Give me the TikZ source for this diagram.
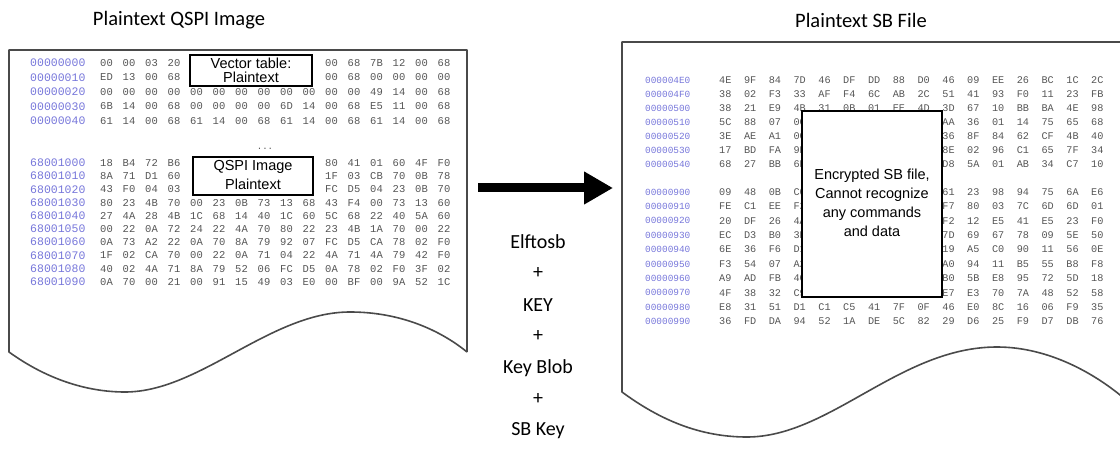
\documentclass[tikz,border=0pt]{standalone}
\usepackage{fontspec}
\setmainfont{Carlito}
\newfontfamily\hexfont{Liberation Mono}
\newfontfamily\arialfont{Liberation Sans}
\usetikzlibrary{arrows.meta}
\definecolor{addrc}{HTML}{7676DA}
\definecolor{hexc}{HTML}{555555}
\definecolor{docline}{HTML}{4A4A4A}
\tikzset{
  addrL/.style={font=\hexfont\fontsize{11.5}{11.5}\selectfont, text=addrc, inner sep=0pt, anchor=west},
  hexL/.style={font=\hexfont\fontsize{10.5}{10.5}\selectfont, text=hexc, inner sep=0pt, anchor=west},
  addrR/.style={font=\hexfont\fontsize{9.4}{9.4}\selectfont, text=addrc, inner sep=0pt, anchor=west},
  hexR/.style={font=\hexfont\fontsize{10.2}{10.2}\selectfont, text=hexc, inner sep=0pt, anchor=west},
  doc/.style={draw=docline, line width=1.6pt, line join=round},
  labelbox/.style={draw=black, fill=white, line width=1.3pt},
  boxtext/.style={font=\arialfont\fontsize{14.5}{14.5}\selectfont, inner sep=0pt, anchor=base},
  title/.style={font=\fontsize{20.5}{20.5}\selectfont, inner sep=0pt},
  midtext/.style={font=\fontsize{20}{20}\selectfont, inner sep=0pt},
}
% x0, y, pitch, start index, list, style, name prefix
\newcommand\hexbytes[7]{%
  \foreach \b [count=\i from #4] in {#5} {\node[#6] (#7-\i) at ({#1+#3*\i},#2) {\b};}%
}
\begin{document}
\begin{tikzpicture}[x=1pt,y=-1pt]
\useasboundingbox (0,0) rectangle (1120,449);

% ---------------- titles
\node[title] (tL) at (179,20) {Plaintext QSPI Image};
\node[title] (tR) at (861,20) {Plaintext SB File};

% ---------------- left document
\draw[doc] (467,352) -- (467,50) -- (9,50) -- (9,352)
  .. controls (45,378) and (85,392) .. (125,392)
  .. controls (200,392) and (270,312) .. (350,312)
  .. controls (400,312) and (440,330) .. (467,352);

% block 1
\def\lx{100}\def\lp{22.5}
\node[addrL] (la0) at (30,63) {00000000};
\node[addrL] (la1) at (30,77.5) {00000010};
\node[addrL] (la2) at (30,92) {00000020};
\node[addrL] (la3) at (30,106.5) {00000030};
\node[addrL] (la4) at (30,121) {00000040};
\hexbytes{\lx}{63}{\lp}{0}{00,00,03,20}{hexL}{l0a}
\hexbytes{\lx}{63}{\lp}{10}{00,68,7B,12,00,68}{hexL}{l0b}
\hexbytes{\lx}{77.5}{\lp}{0}{ED,13,00,68}{hexL}{l1a}
\hexbytes{\lx}{77.5}{\lp}{10}{00,68,00,00,00,00}{hexL}{l1b}
\hexbytes{\lx}{92}{\lp}{0}{00,00,00,00,00,00,00,00,00,00,00,00,49,14,00,68}{hexL}{l2}
\hexbytes{\lx}{106.5}{\lp}{0}{6B,14,00,68,00,00,00,00,6D,14,00,68,E5,11,00,68}{hexL}{l3}
\hexbytes{\lx}{121}{\lp}{0}{61,14,00,68,61,14,00,68,61,14,00,68,61,14,00,68}{hexL}{l4}

\draw[labelbox] (190,55) rectangle (312,86);
\node[boxtext] (vt1) at (251,68.5) {Vector table:};
\node[boxtext] (vt2) at (251,83) {Plaintext};

\node[font=\hexfont\fontsize{9}{9}\selectfont, text=hexc, inner sep=0pt] (dots) at (265,149) {...};

% block 2
\foreach \r/\a in {0/68001000,1/68001010,2/68001020,3/68001030,4/68001040,5/68001050,6/68001060,7/68001070,8/68001080,9/68001090}
  {\node[addrL] (lb\r) at (30,{163+13.2*\r}) {\a};}
\hexbytes{\lx}{163}{\lp}{0}{18,B4,72,B6}{hexL}{m0a}
\hexbytes{\lx}{163}{\lp}{10}{80,41,01,60,4F,F0}{hexL}{m0b}
\hexbytes{\lx}{176.2}{\lp}{0}{8A,71,D1,60}{hexL}{m1a}
\hexbytes{\lx}{176.2}{\lp}{10}{1F,03,CB,70,0B,78}{hexL}{m1b}
\hexbytes{\lx}{189.4}{\lp}{0}{43,F0,04,03}{hexL}{m2a}
\hexbytes{\lx}{189.4}{\lp}{10}{FC,D5,04,23,0B,70}{hexL}{m2b}
\hexbytes{\lx}{202.6}{\lp}{0}{80,23,4B,70,00,23,0B,73,13,68,43,F4,00,73,13,60}{hexL}{m3}
\hexbytes{\lx}{215.8}{\lp}{0}{27,4A,28,4B,1C,68,14,40,1C,60,5C,68,22,40,5A,60}{hexL}{m4}
\hexbytes{\lx}{229}{\lp}{0}{00,22,0A,72,24,22,4A,70,80,22,23,4B,1A,70,00,22}{hexL}{m5}
\hexbytes{\lx}{242.2}{\lp}{0}{0A,73,A2,22,0A,70,8A,79,92,07,FC,D5,CA,78,02,F0}{hexL}{m6}
\hexbytes{\lx}{255.4}{\lp}{0}{1F,02,CA,70,00,22,0A,71,04,22,4A,71,4A,79,42,F0}{hexL}{m7}
\hexbytes{\lx}{268.6}{\lp}{0}{40,02,4A,71,8A,79,52,06,FC,D5,0A,78,02,F0,3F,02}{hexL}{m8}
\hexbytes{\lx}{281.8}{\lp}{0}{0A,70,00,21,00,91,15,49,03,E0,00,BF,00,9A,52,1C}{hexL}{m9}

\draw[labelbox] (193,157) rectangle (313,195);
\node[boxtext] (qs1) at (253,171) {QSPI Image};
\node[boxtext] (qs2) at (253,189.5) {Plaintext};

% ---------------- arrow and middle text
\coordinate (arS) at (478,188);
\coordinate (arE) at (613,188);
\draw[line width=9pt, -{Triangle[length=29pt,width=31pt]}] (arS) -- (arE);

\node[midtext] (m1) at (538,242) {Elftosb};
\node[midtext] (p1) at (538,273.5) {+};
\node[midtext] (m2) at (538,305) {KEY};
\node[midtext] (p2) at (538,336.5) {+};
\node[midtext] (m3) at (538,368) {Key Blob};
\node[midtext] (p3) at (538,399.5) {+};
\node[midtext] (m4) at (538,431) {SB Key};

% ---------------- right document
\begin{scope}
\clip (0,0) rectangle (1120,449);
\draw[doc] (1130,42) -- (622,42) -- (622,392)
  .. controls (660,420) and (700,437) .. (747,437)
  .. controls (830,437) and (900,347) .. (997,347)
  .. controls (1050,347) and (1100,375) .. (1135,408);
\end{scope}

\def\rx{719}\def\rp{24.8}
\foreach \r/\a in {0/000004E0,1/000004F0,2/00000500,3/00000510,4/00000520,5/00000530,6/00000540}
  {\node[addrR] (ra\r) at (645,{80+14*\r}) {\a};}
\hexbytes{\rx}{80}{\rp}{0}{4E,9F,84,7D,46,DF,DD,88,D0,46,09,EE,26,BC,1C,2C}{hexR}{r0}
\hexbytes{\rx}{94}{\rp}{0}{38,02,F3,33,AF,F4,6C,AB,2C,51,41,93,F0,11,23,FB}{hexR}{r1}
\hexbytes{\rx}{108}{\rp}{0}{38,21,E9,4B,31,0B,01,EE,4D,3D,67,10,BB,BA,4E,98}{hexR}{r2}
\hexbytes{\rx}{122}{\rp}{0}{5C,88,07,0C}{hexR}{r3a}
\hexbytes{\rx}{122}{\rp}{9}{AA,36,01,14,75,65,68}{hexR}{r3b}
\hexbytes{\rx}{136}{\rp}{0}{3E,AE,A1,0C}{hexR}{r4a}
\hexbytes{\rx}{136}{\rp}{9}{36,8F,84,62,CF,4B,40}{hexR}{r4b}
\hexbytes{\rx}{150}{\rp}{0}{17,BD,FA,9E}{hexR}{r5a}
\hexbytes{\rx}{150}{\rp}{9}{8E,02,96,C1,65,7F,34}{hexR}{r5b}
\hexbytes{\rx}{164}{\rp}{0}{68,27,BB,6E}{hexR}{r6a}
\hexbytes{\rx}{164}{\rp}{9}{D8,5A,01,AB,34,C7,10}{hexR}{r6b}

\foreach \r/\a in {0/00000900,1/00000910,2/00000920,3/00000930,4/00000940,5/00000950,6/00000960,7/00000970,8/00000980,9/00000990}
  {\node[addrR] (rb\r) at (645,{192+14.4*\r}) {\a};}
\hexbytes{\rx}{192}{\rp}{0}{09,48,0B,C0}{hexR}{s0a}
\hexbytes{\rx}{192}{\rp}{9}{61,23,98,94,75,6A,E6}{hexR}{s0b}
\hexbytes{\rx}{206.4}{\rp}{0}{FE,C1,EE,F2}{hexR}{s1a}
\hexbytes{\rx}{206.4}{\rp}{9}{F7,80,03,7C,6D,6D,01}{hexR}{s1b}
\hexbytes{\rx}{220.8}{\rp}{0}{20,DF,26,4A}{hexR}{s2a}
\hexbytes{\rx}{220.8}{\rp}{9}{F2,12,E5,41,E5,23,F0}{hexR}{s2b}
\hexbytes{\rx}{235.2}{\rp}{0}{EC,D3,B0,3E}{hexR}{s3a}
\hexbytes{\rx}{235.2}{\rp}{9}{7D,69,67,78,09,5E,50}{hexR}{s3b}
\hexbytes{\rx}{249.6}{\rp}{0}{6E,36,F6,D1}{hexR}{s4a}
\hexbytes{\rx}{249.6}{\rp}{9}{19,A5,C0,90,11,56,0E}{hexR}{s4b}
\hexbytes{\rx}{264}{\rp}{0}{F3,54,07,A2}{hexR}{s5a}
\hexbytes{\rx}{264}{\rp}{9}{A0,94,11,B5,55,B8,F8}{hexR}{s5b}
\hexbytes{\rx}{278.4}{\rp}{0}{A9,AD,FB,4C}{hexR}{s6a}
\hexbytes{\rx}{278.4}{\rp}{9}{B0,5B,E8,95,72,5D,18}{hexR}{s6b}
\hexbytes{\rx}{292.8}{\rp}{0}{4F,38,32,C9}{hexR}{s7a}
\hexbytes{\rx}{292.8}{\rp}{9}{E7,E3,70,7A,48,52,58}{hexR}{s7b}
\hexbytes{\rx}{307.2}{\rp}{0}{E8,31,51,D1,C1,C5,41,7F,0F,46,E0,8C,16,06,F9,35}{hexR}{s8}
\hexbytes{\rx}{321.6}{\rp}{0}{36,FD,DA,94,52,1A,DE,5C,82,29,D6,25,F9,D7,DB,76}{hexR}{s9}

\draw[labelbox] (802,111) rectangle (942,297);
\node[boxtext] (e1) at (872,180) {Encrypted SB file,};
\node[boxtext] (e2) at (872,199) {Cannot recognize};
\node[boxtext] (e3) at (872,218) {any commands};
\node[boxtext] (e4) at (872,237) {and data};
\end{tikzpicture}
\end{document}
